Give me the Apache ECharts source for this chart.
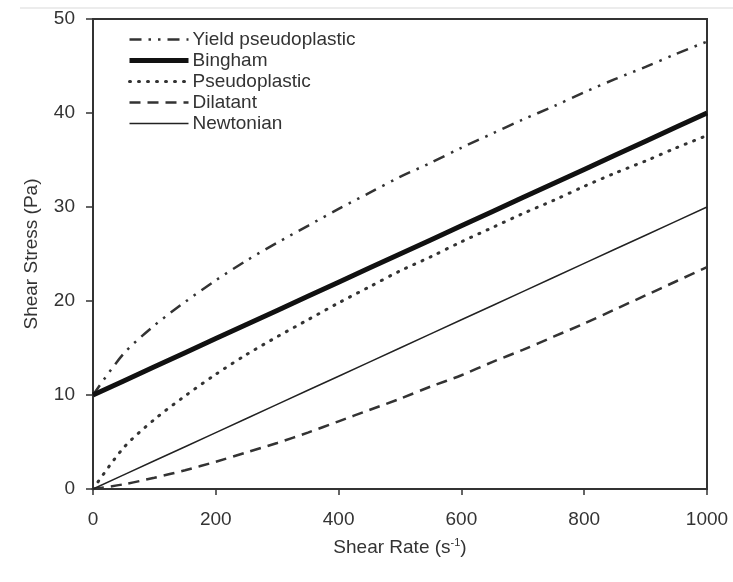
<!DOCTYPE html>
<html>
<head>
<meta charset="utf-8">
<script src="https://cdn.jsdelivr.net/npm/echarts@6/dist/echarts.min.js"></script>
<style>
  html, body { margin: 0; padding: 0; background: #fff; }
  #chart { width: 733px; height: 582px; }
</style>
</head>
<body>
<div id="chart"></div>
<script>
// Shear rate (s^-1) sample points
const shearRate = [0, 50, 100, 150, 200, 250, 300, 350, 400, 450, 500,
                   550, 600, 650, 700, 750, 800, 850, 900, 950, 1000];

// Shear stress (Pa) for each fluid model
const yieldPseudoplastic = [10, 14.4, 17.4, 19.9, 22.2, 24.3, 26.2, 28.0, 29.8, 31.5, 33.2,
                            34.7, 36.3, 37.8, 39.3, 40.7, 42.2, 43.6, 44.9, 46.3, 47.6];
const bingham = [10, 11.5, 13, 14.5, 16, 17.5, 19, 20.5, 22, 23.5, 25,
                 26.5, 28, 29.5, 31, 32.5, 34, 35.5, 37, 38.5, 40];
const pseudoplastic = [0, 4.4, 7.4, 9.9, 12.2, 14.3, 16.2, 18.0, 19.8, 21.5, 23.2,
                       24.7, 26.3, 27.8, 29.3, 30.7, 32.2, 33.6, 34.9, 36.3, 37.6];
const dilatant = [0, 0.5, 1.2, 2.0, 2.9, 3.9, 4.9, 6.0, 7.2, 8.4, 9.6,
                  10.9, 12.1, 13.5, 14.8, 16.2, 17.6, 19.1, 20.6, 22.1, 23.6];
const newtonian = [0, 1.5, 3, 4.5, 6, 7.5, 9, 10.5, 12, 13.5, 15,
                   16.5, 18, 19.5, 21, 22.5, 24, 25.5, 27, 28.5, 30];

const pairs = ys => shearRate.map((x, i) => [x, ys[i]]);

const textColor = '#333';
const font = 'Liberation Sans, Arial, sans-serif';

// Line styles shared by each curve and its legend key
const styles = {
  'Yield pseudoplastic': { color: '#333', width: 2.5, type: [12, 7, 2.5, 7, 2.5, 7] },
  'Bingham':             { color: '#111', width: 5, type: 'solid' },
  'Pseudoplastic':       { color: '#333', width: 3, type: [1, 8], cap: 'round' },
  'Dilatant':            { color: '#333', width: 2.5, type: [11, 7] },
  'Newtonian':           { color: '#222', width: 1.5, type: 'solid' }
};
const seriesNames = ['Yield pseudoplastic', 'Bingham', 'Pseudoplastic', 'Dilatant', 'Newtonian'];
const seriesValues = [yieldPseudoplastic, bingham, pseudoplastic, dilatant, newtonian];
const smoothCurve = { 'Yield pseudoplastic': 0.3, 'Pseudoplastic': 0.3, 'Dilatant': 0.3 };

const chart = echarts.init(document.getElementById('chart'), null, { renderer: 'canvas' });

chart.setOption({
  backgroundColor: '#fff',
  animation: false,
  grid: {
    left: 93, right: 26, top: 19, bottom: 93,
    show: true, borderColor: '#333', borderWidth: 2
  },
  legend: {
    orient: 'vertical',
    left: 122, top: 25,
    itemWidth: 59, itemHeight: 14, itemGap: 2,
    itemStyle: { opacity: 0 },
    textStyle: { color: textColor, fontSize: 19, fontFamily: font, padding: [0, 0, 0, -1] },
    data: seriesNames.map(n => ({
      name: n,
      itemStyle: { opacity: 0 },
      lineStyle: Object.assign({}, styles[n])
    }))
  },
  graphic: [{
    type: 'line', silent: true,
    shape: { x1: 20, y1: 8, x2: 733, y2: 8 },
    style: { stroke: '#ececec', lineWidth: 2 }
  }],
  xAxis: {
    type: 'value', min: 0, max: 1000, interval: 200,
    name: 'Shear Rate (s{sup|-1})',
    nameLocation: 'middle', nameGap: 48,
    nameTextStyle: {
      color: textColor, fontSize: 19, fontFamily: font,
      rich: { sup: { fontSize: 11, verticalAlign: 'top', padding: [0, 0, 10, 0], color: textColor, fontFamily: font } }
    },
    axisLine: { show: true, lineStyle: { color: '#333', width: 2 } },
    axisTick: { show: true, inside: false, length: 6, lineStyle: { color: '#333', width: 1.5 } },
    axisLabel: { color: textColor, fontSize: 19, fontFamily: font, margin: 21, formatter: v => String(v) },
    splitLine: { show: false }
  },
  yAxis: {
    type: 'value', min: 0, max: 50, interval: 10,
    name: 'Shear Stress (Pa)',
    nameLocation: 'middle', nameGap: 52, nameRotate: 90,
    nameTextStyle: { color: textColor, fontSize: 19, fontFamily: font },
    axisLine: { show: true, lineStyle: { color: '#333', width: 2 } },
    axisTick: { show: true, inside: false, length: 7, lineStyle: { color: '#333', width: 1.5 } },
    axisLabel: { color: textColor, fontSize: 19, fontFamily: font, margin: 18 },
    splitLine: { show: false }
  },
  series: seriesNames.map((n, i) => ({
    name: n, type: 'line', data: pairs(seriesValues[i]),
    showSymbol: false, symbol: 'none',
    smooth: smoothCurve[n] || false,
    lineStyle: Object.assign({}, styles[n]),
    itemStyle: { color: styles[n].color, opacity: 0 }
  }))
});
</script>
</body>
</html>
